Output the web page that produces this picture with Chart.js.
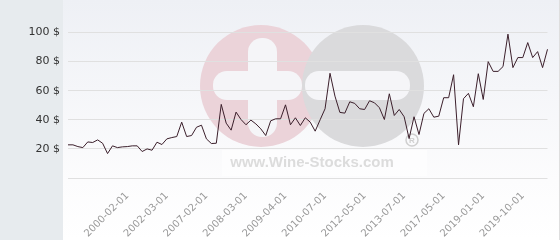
<!DOCTYPE html>
<html>
<head>
<meta charset="utf-8">
<script src="https://cdn.jsdelivr.net/npm/chart.js"></script>
<style>
html, body { margin: 0; padding: 0; background: #fff; }
</style>
</head>
<body>
<canvas id="myChart" width="560" height="240"></canvas>
<script>
// price per bottle, one value per quote (oldest first)
const prices = [
    22.8, 22.8, 21.6, 20.9, 24.8, 24.4, 26.2, 23.9, 16.8, 22.1,
    20.9, 21.4, 21.6, 22.1, 22.1, 18.2, 20.0, 19.1, 24.6, 23.0,
    26.9, 27.8, 28.5, 38.4, 28.5, 29.2, 34.9, 36.3, 26.9, 23.7,
    23.9, 50.6, 37.7, 32.9, 45.3, 40.2, 36.6, 39.8, 37.2, 33.8,
    29.2, 39.3, 40.7, 40.7, 50.3, 36.6, 41.4, 36.1, 41.4, 38.4,
    32.2, 40.0, 47.6, 72.0, 56.3, 45.1, 44.6, 52.4, 51.3, 47.6,
    47.1, 53.1, 51.7, 48.3, 40.2, 57.9, 43.0, 47.1, 42.1, 27.1,
    42.1, 29.9, 44.4, 47.6, 41.8, 42.5, 55.2, 55.2, 71.0, 22.8,
    54.5, 58.2, 49.0, 71.7, 54.0, 80.0, 73.3, 73.3, 76.6, 98.9,
    75.9, 82.8, 82.8, 93.1, 82.8, 86.9, 75.9, 88.5
];

// dates shown under the axis, one every tickStep quotes starting at firstTick
const tickDates = [
    '2000-02-01', '2002-03-01', '2007-02-01', '2008-03-01', '2009-04-01', '2010-07-01',
    '2012-05-01', '2013-07-01', '2017-05-01', '2019-01-01', '2019-10-01'
];
const firstTick = 12;
const tickStep = 8;

const yTicks = [0, 20, 40, 60, 80, 100];
const yMax = 110;

const labels = prices.map((p, i) => {
    const k = (i - firstTick) / tickStep;
    return (i >= firstTick && Number.isInteger(k) && k < tickDates.length) ? tickDates[k] : '';
});

function roundRect(ctx, x, y, w, h, r) {
    ctx.beginPath();
    ctx.moveTo(x + r, y);
    ctx.arcTo(x + w, y, x + w, y + h, r);
    ctx.arcTo(x + w, y + h, x, y + h, r);
    ctx.arcTo(x, y + h, x, y, r);
    ctx.arcTo(x, y, x + w, y, r);
    ctx.closePath();
    ctx.fill();
}

const backdrop = {
    id: 'backdrop',
    beforeDraw(chart) {
        const ctx = chart.ctx;
        ctx.save();
        const g = ctx.createLinearGradient(0, 0, 0, 240);
        g.addColorStop(0, '#eef0f5');
        g.addColorStop(0.75, '#fcfcfd');
        g.addColorStop(1, '#ffffff');
        ctx.fillStyle = g;
        ctx.fillRect(63, 0, 497, 240);
        ctx.fillStyle = '#e7ebee';
        ctx.fillRect(0, 0, 63, 240);
        ctx.fillStyle = '#dedede';
        ctx.fillRect(559, 0, 1, 240);

        // watermark
        ctx.fillStyle = '#ebd3d9';
        ctx.beginPath();
        ctx.arc(261, 86, 61, 0, Math.PI * 2);
        ctx.fill();
        ctx.fillStyle = '#dadadc';
        ctx.beginPath();
        ctx.arc(363, 86, 61, 0, Math.PI * 2);
        ctx.fill();
        ctx.fillStyle = '#f5f5f8';
        roundRect(ctx, 248, 38, 29, 99, 14);
        roundRect(ctx, 213, 71, 89, 29, 14);
        roundRect(ctx, 305, 71, 105, 29, 14);

        ctx.fillStyle = 'rgba(255,255,255,0.6)';
        ctx.fillRect(222, 150, 205, 26);
        ctx.fillStyle = '#dcdcdc';
        ctx.font = 'bold 15px "Liberation Sans"';
        ctx.textAlign = 'center';
        ctx.textBaseline = 'alphabetic';
        ctx.fillText('www.Wine-Stocks.com', 312, 167);

        ctx.strokeStyle = '#cfcfcf';
        ctx.lineWidth = 1.5;
        ctx.beginPath();
        ctx.arc(412, 140, 6, 0, Math.PI * 2);
        ctx.stroke();
        ctx.fillStyle = '#cfcfcf';
        ctx.font = 'bold 8px "Liberation Sans"';
        ctx.textBaseline = 'middle';
        ctx.fillText('R', 412, 140.5);
        ctx.restore();
    }
};

const data = {
    labels: labels,
    datasets: [{
        data: prices,
        borderColor: '#3b1f2b',
        borderWidth: 1,
        pointRadius: 0,
        tension: 0,
        fill: false
    }]
};

const config = {
    type: 'line',
    data: data,
    plugins: [backdrop],
    options: {
        responsive: false,
        animation: false,
        layout: { padding: { top: 18, right: 6, left: 0, bottom: 0 } },
        plugins: {
            legend: { display: false },
            tooltip: { enabled: false }
        },
        scales: {
            x: {
                grid: { display: false },
                border: { display: false },
                ticks: {
                    autoSkip: false,
                    minRotation: 45,
                    maxRotation: 45,
                    color: '#999999',
                    padding: 4,
                    font: { family: 'DejaVu Sans', size: 10 }
                },
                afterFit: s => { s.height = 62; }
            },
            y: {
                min: 0,
                max: yMax,
                afterBuildTicks: ax => { ax.ticks = yTicks.map(v => ({ value: v })); },
                grid: { color: '#e0e0e0', drawTicks: false },
                border: { display: false },
                ticks: {
                    padding: 8,
                    color: '#333333',
                    font: { family: 'DejaVu Sans', size: 11 },
                    callback: v => v === 0 ? '' : v + ' $'
                },
                afterFit: s => { s.width = 68; }
            }
        }
    }
};

const myChart = new Chart(document.getElementById('myChart'), config);
</script>
</body>
</html>
